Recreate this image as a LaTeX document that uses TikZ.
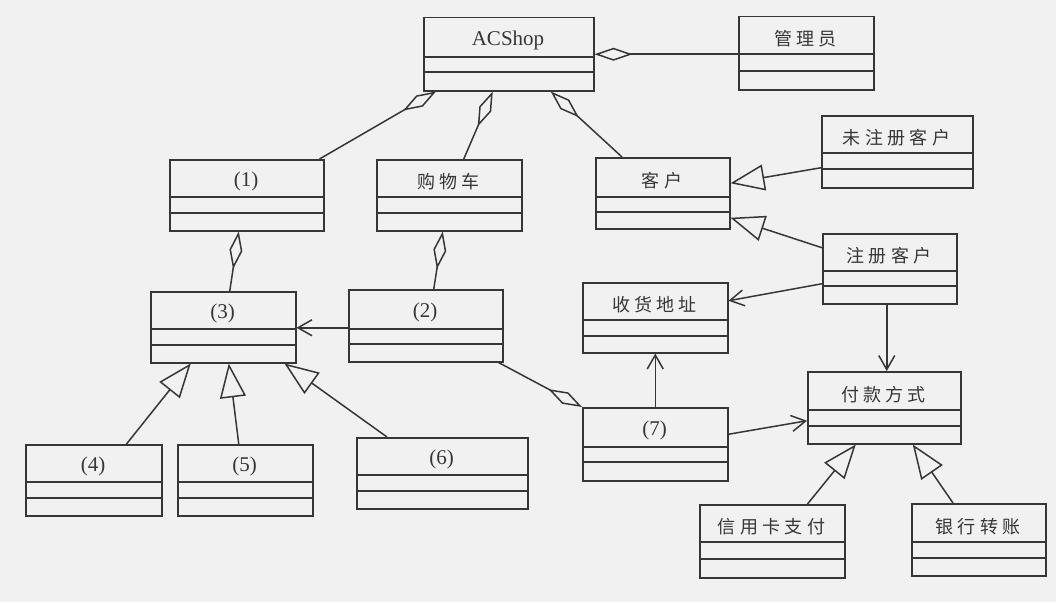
\documentclass[tikz,border=0pt]{standalone}
\usepackage{fontspec}
\setmainfont{Liberation Serif}
\newfontfamily\cjk[LetterSpace=24]{Noto Sans CJK SC}
\usetikzlibrary{arrows.meta,calc}
\definecolor{bgc}{HTML}{F1F1F1}
\definecolor{ink}{HTML}{363636}
\tikzset{
  cls/.style={draw=ink, line width=1.5pt, rectangle, inner sep=0pt},
  clstext/.style={inner sep=0pt, text=ink, yshift=-3pt, font=\fontsize{21}{24}\selectfont},
  cjktext/.style={inner sep=0pt, text=ink, yshift=-4pt, font=\fontsize{18}{21}\selectfont\cjk},
  divider/.style={draw=ink, line width=1.5pt},
  conn/.style={draw=ink, line width=1.5pt},
  agg/.style={conn, -{Diamond[open, length=38pt, width=13pt]}},
  gen/.style={conn, -{Triangle[open, length=34pt, width=26pt]}},
  dep/.style={conn, -{Straight Barb[length=14pt, width=16pt]}},
}
% #1 name, #2 x1, #3 y1, #4 x2, #5 y2, #6 div1, #7 div2, #8 text, #9 text style
\newcommand\umlbox[9]{%
  \node[cls, minimum width={#4-#2}, minimum height={#5-#3}, anchor=north west] (#1) at (#2,#3) {};
  \node[#9] (#1-name) at ({(#2+#4)/2},{(#3+#6)/2}) {#8};
  \draw[divider] (#2,#6) -- (#4,#6);
  \draw[divider] (#2,#7) -- (#4,#7);
}
\begin{document}
\begin{tikzpicture}[x=1pt,y=-1pt]
\path[fill=bgc] (0,0) rectangle (1056,602);
\useasboundingbox (0,0) rectangle (1056,602);

\umlbox{acshop}{423}{17}{593}{90}{57}{72}{ACShop}{clstext}
\umlbox{admin}{738}{16}{873}{89}{54}{71}{管理员}{cjktext}
\umlbox{c1}{169}{159}{323}{230}{197}{213}{(1)}{clstext}
\umlbox{cart}{376}{159}{521}{230}{197}{213}{购物车}{cjktext}
\umlbox{cust}{595}{157}{729}{228}{197}{212}{客户}{cjktext}
\umlbox{unreg}{821}{115}{972}{187}{153}{169}{未注册客户}{cjktext}
\umlbox{reg}{822}{233}{956}{303}{271}{286}{注册客户}{cjktext}
\umlbox{addr}{582}{282}{727}{352}{320}{336}{收货地址}{cjktext}
\umlbox{c3}{150}{291}{295}{362}{329}{345}{(3)}{clstext}
\umlbox{c2}{348}{289}{502}{361}{329}{344}{(2)}{clstext}
\umlbox{c7}{582}{407}{727}{480}{447}{462}{(7)}{clstext}
\umlbox{pay}{807}{371}{960}{443}{410}{426}{付款方式}{cjktext}
\umlbox{c4}{25}{444}{161}{515}{482}{498}{(4)}{clstext}
\umlbox{c5}{177}{444}{312}{515}{482}{498}{(5)}{clstext}
\umlbox{c6}{356}{437}{527}{508}{475}{491}{(6)}{clstext}
\umlbox{credit}{699}{504}{844}{577}{542}{559}{信用卡支付}{cjktext}
\umlbox{bank}{911}{503}{1045}{575}{542}{558}{银行转账}{cjktext}

% aggregations
\draw[agg] (admin.west |- acshop.east) -- (acshop.east);
\draw[agg] ([xshift=-5pt]c1.north east) -- ([xshift=13pt]acshop.south west);
\draw[agg] ([xshift=14.5pt]cart.north) -- ([xshift=-16pt]acshop.south);
\draw[agg] ([xshift=27pt]cust.north west) -- ([xshift=42pt]acshop.south);
\draw[agg] ([xshift=6.5pt]c3.north) -- ([xshift=-8pt]c1.south);
\draw[agg] ([xshift=8pt]c2.north) -- ([xshift=-6.5pt]cart.south);
\draw[agg] ([xshift=-5pt]c2.south east) -- (c7.north west);

% generalizations
\draw[gen] ([yshift=-16pt]unreg.west) -- ([yshift=10pt]cust.east);
\draw[gen] ([yshift=21pt]reg.west) -- ([yshift=-24.5pt]cust.east);
\draw[gen] ([xshift=-36pt]c4.north east) -- ([xshift=-32.5pt]c3.south);
\draw[gen] ([xshift=-6.5pt]c5.north) -- ([xshift=5.5pt]c3.south);
\draw[gen] ([xshift=31pt]c6.north west) -- ([xshift=-12pt]c3.south east);
\draw[gen] ([xshift=-38pt]credit.north east) -- ([xshift=-28.5pt]pay.south);
\draw[gen] ([xshift=42pt]bank.north west) -- ([xshift=28.5pt]pay.south);

% associations
\draw[dep] ([yshift=-15pt]reg.west) -- ([yshift=17pt]addr.east);
\draw[dep] ([xshift=-3pt]reg.south) -- ([xshift=-3pt]reg.south |- pay.north);
\draw[dep] ([yshift=-2pt]c2.west) -- ([yshift=-2pt]c2.west -| c3.east);
\draw[dep] (c7.north) -- (c7.north |- addr.south);
\draw[dep] ([yshift=10pt]c7.east) -- ([yshift=-13pt]pay.west);
\end{tikzpicture}
\end{document}
